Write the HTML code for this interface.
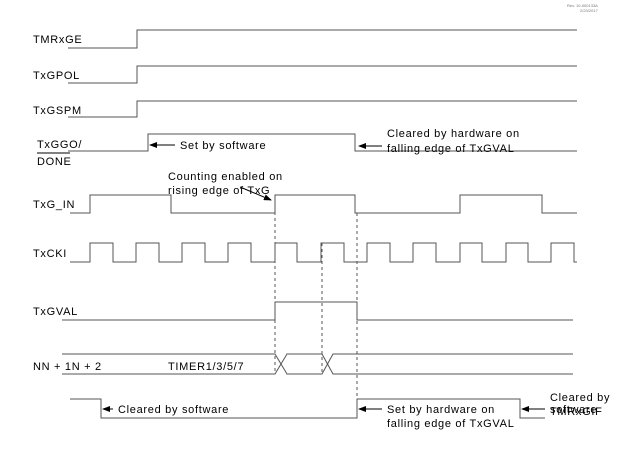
<!DOCTYPE html>
<html><head><style>
html,body{margin:0;padding:0;background:#fff;width:624px;height:452px;overflow:hidden}
svg{display:block}
text{font-family:"Liberation Sans",Arial,sans-serif;font-size:11px;fill:#000;letter-spacing:0.7px}
</style></head><body>
<svg width="624" height="452" viewBox="0 0 624 452" xmlns="http://www.w3.org/2000/svg">
<defs><marker id="a" markerWidth="8" markerHeight="6" refX="1" refY="3" orient="auto"><path d="M8,0 L0,3 L8,6 Z" fill="#000"/></marker>
<marker id="b" markerWidth="8" markerHeight="6" refX="7" refY="3" orient="auto"><path d="M0,0 L8,3 L0,6 Z" fill="#000"/></marker></defs>
<g fill="none" stroke="#555" stroke-width="1">
<path d="M68,48 H137 V30 H577"/>
<path d="M68,83 H137 V66 H577"/>
<path d="M68,117 H137 V101 H577"/>
<path d="M68,151 H148 V134 H355 V151 H577"/>
<path d="M70,213 H90 V195 H171 V213 H275 V195 H355 V213 H460 V195 H542 V213 H577"/>
<path d="M70,262 H90 V243 H113 V262 H136 V243 H159 V262 H182 V243 H205 V262 H228 V243 H251 V262 H275 V243 H297 V262 H321 V243 H344 V262 H367 V243 H390 V262 H413 V243 H436 V262 H460 V243 H482 V262 H506 V243 H528 V262 H551 V243 H574 V262 H577"/>
<path d="M62,320 H275 V302 H357 V320 H573"/>
<path d="M62,354 H275 L287,374 H322 L333,354 H573"/>
<path d="M62,374 H275 L287,354 H322 L333,374 H573"/>
<path d="M70,399 H101 V418 H357 V399 H520 V418 H545"/>
</g>
<g stroke="#555" stroke-dasharray="3,3">
<line x1="275" y1="200" x2="275" y2="374"/>
<line x1="322" y1="243" x2="322" y2="374"/>
<line x1="357" y1="213" x2="357" y2="418"/>
</g>
<g stroke="#000">
<line x1="150" y1="145" x2="175" y2="145" marker-start="url(#a)"/>
<line x1="359" y1="146" x2="382" y2="146" marker-start="url(#a)"/>
<line x1="240" y1="187" x2="271" y2="200" marker-end="url(#b)"/>
<line x1="103" y1="409" x2="113" y2="409" marker-start="url(#a)"/>
<line x1="359" y1="409" x2="382" y2="409" marker-start="url(#a)"/>
<line x1="522" y1="409" x2="545" y2="409" marker-start="url(#a)"/>
</g>
<text x="33" y="43">TMRxGE</text>
<text x="33" y="79">TxGPOL</text>
<text x="33" y="114">TxGSPM</text>
<text x="37" y="148">TxGGO/</text>
<text x="37" y="165">DONE</text>
<line x1="37" y1="153" x2="70" y2="153" stroke="#000"/>
<text x="33" y="208">TxG_IN</text>
<text x="33" y="257">TxCKI</text>
<text x="33" y="315">TxGVAL</text>
<text x="33" y="370">NN + 1N + 2</text>
<text x="168" y="370">TIMER1/3/5/7</text>
<text x="180" y="149">Set by software</text>
<text x="387" y="137">Cleared by hardware on</text>
<text x="387" y="152">falling edge of TxGVAL</text>
<text x="168" y="180">Counting enabled on</text>
<text x="168" y="194">rising edge of TxG</text>
<text x="118" y="413">Cleared by software</text>
<text x="387" y="413">Set by hardware on</text>
<text x="387" y="427">falling edge of TxGVAL</text>
<text x="550" y="401">Cleared by</text>
<text x="550" y="413">software</text>
<text x="550" y="415">TMRxGIF</text>
<text x="567" y="7" style="font-size:4px;fill:#777;letter-spacing:0">Rev. 10-000133A</text>
<text x="580" y="12" style="font-size:4px;fill:#777;letter-spacing:0">2/23/2017</text>
</svg>
</body></html>
